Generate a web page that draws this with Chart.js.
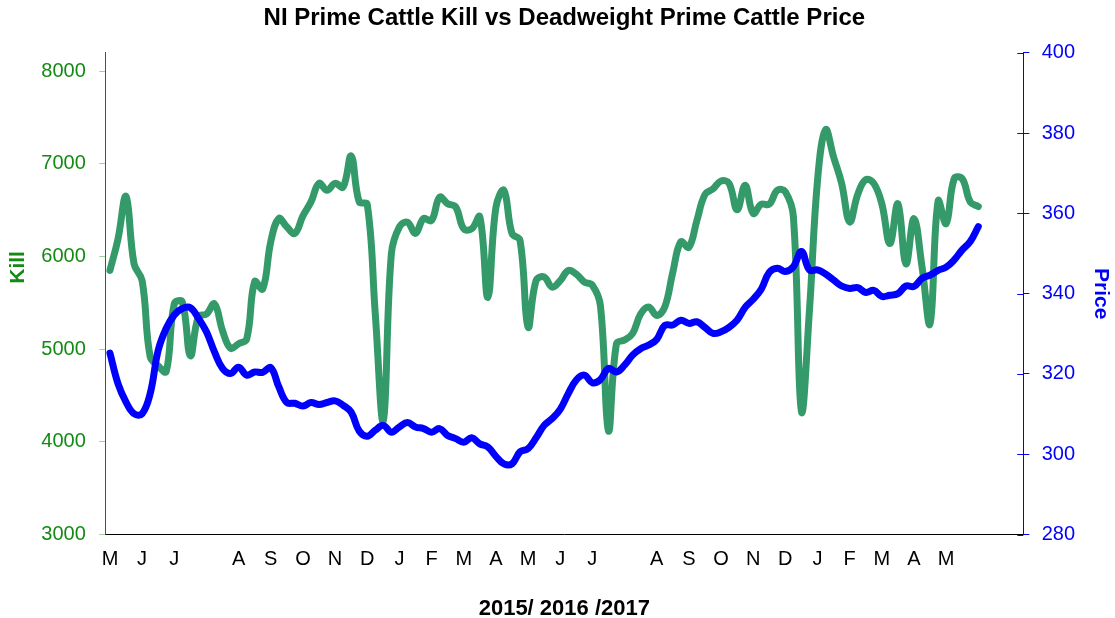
<!DOCTYPE html>
<html>
<head>
<meta charset="utf-8">
<title>NI Prime Cattle Kill vs Deadweight Prime Cattle Price</title>
<script src="https://cdn.jsdelivr.net/npm/chart.js@4"></script>
<style>
  html, body { margin: 0; padding: 0; background: #fff; }
  #chart { display: block; }
</style>
</head>
<body>
<canvas id="chart" width="1115" height="618"></canvas>
<script>
// one label per 4-week period, May 2015 - May 2017
const periodLabels = ['M', 'J', 'J', '', 'A', 'S', 'O', 'N', 'D', 'J', 'F', 'M', 'A',
                      'M', 'J', 'J', '', 'A', 'S', 'O', 'N', 'D', 'J', 'F', 'M', 'A', 'M'];
const weeksPerPeriod = 4;

// weekly prime cattle kill (head)
const kill = [
  5850, 6190, 6650, 5920, 5740, 4920, 4820, 4760, 5490, 5510,
  4930, 5350, 5380, 5490, 5200, 5010, 5060, 5110, 5730, 5650,
  6160, 6410, 6320, 6250, 6440, 6590, 6790, 6715, 6790, 6750,
  7085, 6590, 6565, 5380, 4230, 6030, 6320, 6370, 6250, 6410,
  6390, 6640, 6570, 6535, 6300, 6300, 6430, 5560, 6530, 6715,
  6250, 6175, 5240, 5740, 5780, 5670, 5740, 5850, 5810, 5725,
  5690, 5470, 4120, 5060, 5100, 5170, 5380, 5455, 5365, 5455,
  5830, 6160, 6100, 6390, 6670, 6730, 6815, 6790, 6505, 6770,
  6465, 6565, 6565, 6715, 6700, 6430, 4330, 5420, 6820, 7370,
  7075, 6790, 6375, 6670, 6830, 6790, 6570, 6140, 6570, 5920,
  6410, 5890, 5275, 6600, 6355, 6840, 6840, 6590, 6540
];

// weekly deadweight prime cattle price (p/kg)
const price = [
  325.2, 317.6, 313.0, 310.1, 310.1, 315.1, 325.9, 331.4, 334.7, 336.3,
  336.5, 333.9, 330.5, 325.5, 321.4, 320.1, 321.7, 319.7, 320.5, 320.4,
  321.6, 316.8, 312.9, 312.7, 312.0, 312.9, 312.4, 312.9, 313.3, 312.2,
  310.5, 305.8, 304.5, 306.0, 307.2, 305.5, 306.8, 307.9, 306.8, 306.4,
  305.5, 306.4, 304.7, 303.9, 303.0, 304.1, 302.6, 301.8, 299.5, 297.6,
  297.6, 300.6, 301.4, 304.1, 307.2, 308.9, 311.2, 315.1, 318.5, 319.7,
  317.8, 318.6, 321.4, 320.5, 322.2, 324.7, 326.3, 327.2, 328.6, 332.1,
  332.2, 333.4, 332.6, 333.0, 331.6, 330.1, 330.5, 331.6, 333.4, 336.6,
  338.6, 341.1, 345.3, 346.3, 345.5, 346.7, 350.5, 345.9, 345.9, 344.9,
  343.4, 341.9, 341.3, 341.5, 340.3, 340.8, 339.3, 339.6, 340.0, 341.9,
  341.8, 343.8, 344.6, 345.8, 346.6, 348.4, 350.9, 353.0, 356.7
];

const killTicks = [3000, 4000, 5000, 6000, 7000, 8000];
const priceTicks = [280, 300, 320, 340, 360, 380, 400];

const toPoints = (arr) => arr.map((v, i) => ({ x: i, y: v }));

Chart.defaults.font.family = '"Liberation Sans", Arial, sans-serif';

// the price axis has tick marks on both sides of its line
const innerTicks = {
  id: 'innerTicks',
  afterDraw(chart) {
    const s = chart.scales.y1;
    const c = chart.ctx;
    c.save();
    c.strokeStyle = '#0000ff';
    c.lineWidth = 1;
    s.ticks.forEach(t => {
      const y = Math.round(s.getPixelForValue(t.value)) + 0.5;
      c.beginPath();
      c.moveTo(s.left - 6, y);
      c.lineTo(s.left, y);
      c.stroke();
    });
    c.restore();
  }
};

new Chart(document.getElementById('chart'), {
  type: 'line',
  data: {
    datasets: [
      {
        label: 'Kill',
        data: toPoints(kill),
        yAxisID: 'y',
        borderColor: '#359a69',
        borderWidth: 7,
        tension: 0.4,
        pointRadius: 0,
        borderCapStyle: 'round',
        borderJoinStyle: 'round',
        order: 2
      },
      {
        label: 'Price',
        data: toPoints(price),
        yAxisID: 'y1',
        borderColor: '#0000ff',
        borderWidth: 7,
        tension: 0.4,
        pointRadius: 0,
        borderCapStyle: 'round',
        borderJoinStyle: 'round',
        order: 1
      }
    ]
  },
  options: {
    responsive: false,
    animation: false,
    devicePixelRatio: 1,
    layout: { padding: 0 },
    plugins: {
      legend: { display: false },
      tooltip: { enabled: false },
      title: {
        display: true,
        text: 'NI Prime Cattle Kill vs Deadweight Prime Cattle Price',
        color: '#000',
        fullSize: false,
        font: { size: 24, weight: 'bold' },
        padding: { top: 4.3, bottom: 19.6 }
      }
    },
    scales: {
      x: {
        type: 'linear',
        min: -0.58,
        max: 113.6,
        grid: { display: false, drawTicks: false },
        border: { display: true, color: '#000', width: 1 },
        afterBuildTicks: (scale) => {
          scale.ticks = periodLabels.map((_, k) => ({ value: k * weeksPerPeriod }));
        },
        ticks: {
          autoSkip: false,
          maxRotation: 0,
          padding: 13,
          color: '#000',
          font: { size: 20 },
          callback: (value) => periodLabels[Math.round(value / weeksPerPeriod)]
        },
        title: {
          display: true,
          text: '2015/ 2016 /2017',
          color: '#000',
          font: { size: 22, weight: 'bold' },
          padding: { top: 11, bottom: -4 }
        }
      },
      y: {
        position: 'left',
        min: 3000,
        max: 8200,
        afterBuildTicks: (scale) => {
          scale.ticks = killTicks.map(v => ({ value: v }));
        },
        grid: {
          drawOnChartArea: false,
          drawTicks: true,
          tickLength: 6,
          color: '#9fd09f'
        },
        border: { display: true, color: '#137a13', width: 1 },
        ticks: {
          padding: 13.5,
          color: '#138a13',
          font: { size: 20 },
          callback: (value) => String(value)
        },
        title: {
          display: true,
          text: '         Kill',
          color: '#138a13',
          font: { size: 21, weight: 'bold' },
          padding: { top: 5.7, bottom: -3.1 }
        }
      },
      y1: {
        position: 'right',
        min: 280,
        max: 400,
        afterBuildTicks: (scale) => {
          scale.ticks = priceTicks.map(v => ({ value: v }));
        },
        grid: {
          drawOnChartArea: false,
          drawTicks: true,
          tickLength: 6,
          color: '#0000ff'
        },
        border: { display: true, color: '#0000ff', width: 1 },
        ticks: {
          padding: 12.4,
          color: '#0000ff',
          font: { size: 20 },
          callback: (value) => String(value)
        },
        title: {
          display: true,
          text: 'Price',
          color: '#0000ff',
          font: { size: 21, weight: 'bold' },
          padding: { top: 1.4, bottom: 0.9 }
        }
      }
    }
  },
  plugins: [innerTicks]
});
</script>
</body>
</html>
